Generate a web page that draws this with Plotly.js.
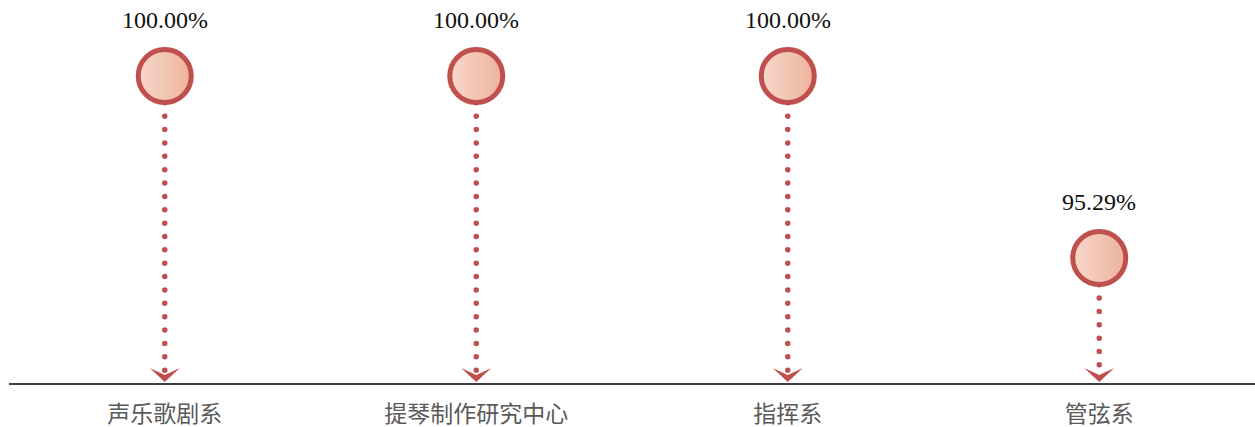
<!DOCTYPE html>
<html>
<head>
<meta charset="utf-8">
<script src="https://cdn.plot.ly/plotly-3.0.1.min.js"></script>
<style>
html, body { margin: 0; padding: 0; background: #ffffff; }
#chart { width: 1255px; height: 427px; }
.js-line { stroke-linecap: round !important; }
</style>
</head>
<body>
<div id="chart"></div>
<script>
// ---- data ----
const categories = ["声乐歌剧系", "提琴制作研究中心", "指挥系", "管弦系"];
const values = [100.00, 100.00, 100.00, 95.29];
const valueLabels = ["100.00%", "100.00%", "100.00%", "95.29%"];

// ---- style ----
const red = "#c0504d";
const yMin = 92.05, yMax = 101.97;
const idx = categories.map((_, i) => i);

const traces = [];
// dotted stems
idx.forEach(i => {
  traces.push({
    type: "scatter", mode: "lines",
    x: [i, i], y: [values[i], yMin + 0.15],
    line: { color: red, width: 5.5, dash: "0px,13.37px" },
    hoverinfo: "skip", showlegend: false
  });
});
// circles
traces.push({
  type: "scatter", mode: "markers",
  x: idx, y: values,
  marker: {
    size: 53, color: "#f7d8cc",
    gradient: { type: "horizontal", color: "#edb39b" },
    line: { color: red, width: 5 }
  },
  hoverinfo: "skip", showlegend: false
});

const annotations = idx.map(i => ({
  x: i, y: values[i], xref: "x", yref: "y",
  text: valueLabels[i], showarrow: false,
  yshift: 56, yanchor: "middle",
  font: { family: "Liberation Serif, Times New Roman, serif", size: 24, color: "#111111" }
}));

const shapes = idx.map(i => ({
  type: "path", xref: "x", yref: "y",
  xsizemode: "pixel", ysizemode: "pixel",
  xanchor: i, yanchor: yMin,
  path: "M-15,15 L0,1 L15,15 L0,8 Z",
  fillcolor: red, line: { width: 0 }, layer: "above"
}));

const layout = {
  width: 1255, height: 427,
  margin: { l: 9, r: 0, t: 0, b: 44 },
  paper_bgcolor: "#ffffff", plot_bgcolor: "#ffffff",
  xaxis: {
    range: [-0.5, categories.length - 0.5],
    tickvals: idx, ticktext: categories,
    showgrid: false, zeroline: false,
    showline: true, linecolor: "#404040", linewidth: 2,
    ticks: "outside", ticklen: 9, tickcolor: "rgba(0,0,0,0)",
    tickfont: { family: "Noto Sans CJK SC, sans-serif", size: 23, color: "#595959" },
    fixedrange: true
  },
  yaxis: {
    range: [yMin, yMax], visible: false, showgrid: false, zeroline: false, fixedrange: true
  },
  annotations: annotations,
  shapes: shapes,
  showlegend: false
};

Plotly.newPlot("chart", traces, layout, { displayModeBar: false, staticPlot: true });
</script>
</body>
</html>
